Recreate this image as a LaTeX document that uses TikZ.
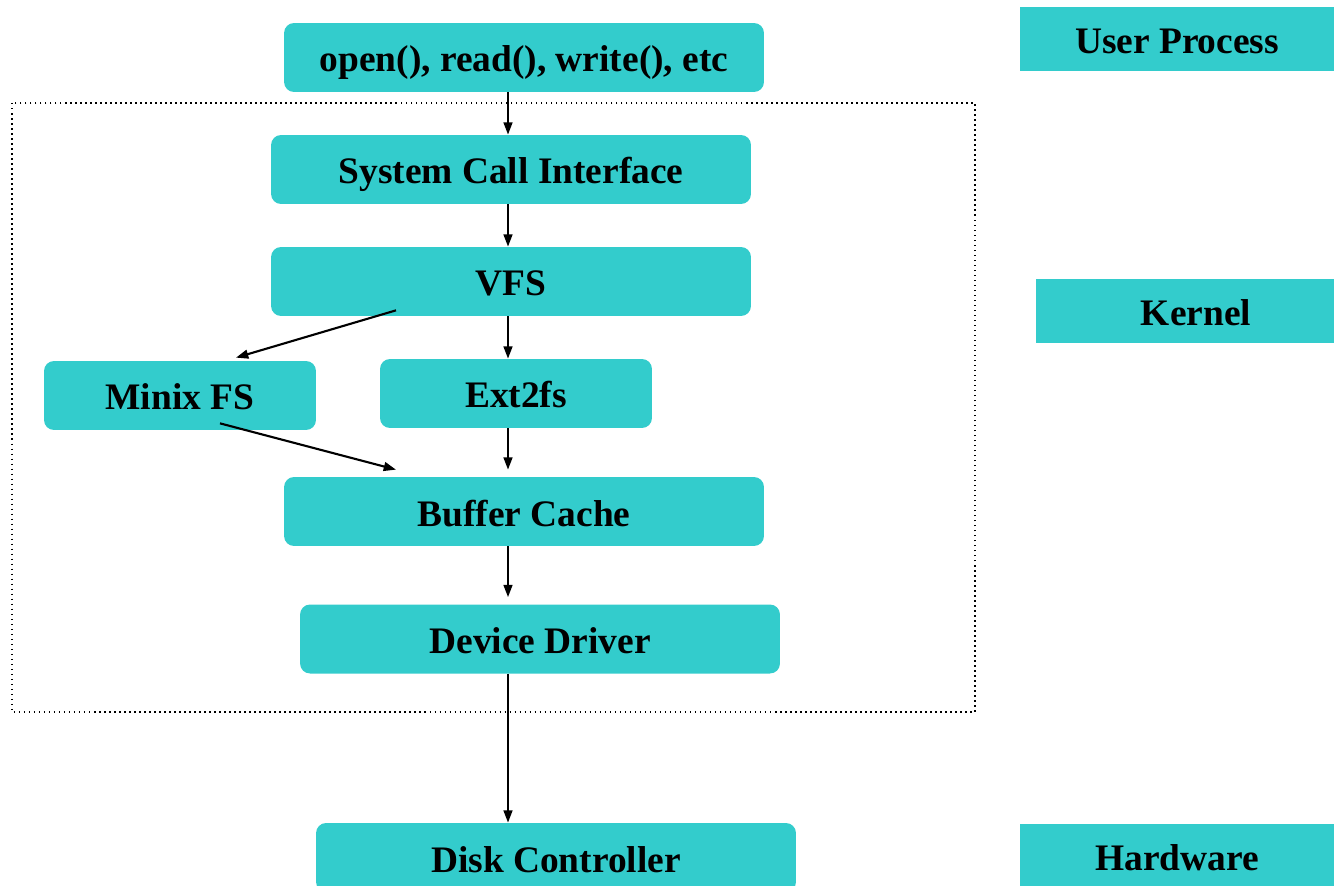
\documentclass[tikz,border=0pt]{standalone}
\usepackage{fontspec}
\setmainfont{Liberation Serif}
\usetikzlibrary{arrows.meta}
\definecolor{boxfill}{HTML}{33CCCC}

\begin{document}
\begin{tikzpicture}[x=0.02cm,y=-0.02cm,
  box/.style = {fill=boxfill,rounded corners=0.2cm,minimum width=9.6cm,minimum height=1.38cm,inner sep=0pt,text height=16.5pt,text depth=0pt,font=\fontsize{21.3}{25}\selectfont\bfseries},
  fsbox/.style = {box,minimum width=5.44cm},
  layer/.style = {fill=boxfill,minimum height=1.28cm,inner sep=0pt,text height=16.5pt,text depth=0pt,font=\fontsize{21.3}{25}\selectfont\bfseries},
  arr/.style = {-{Triangle[length=7pt,width=5pt]},line width=1.2pt}]

\useasboundingbox (0,0) rectangle (1334,885);
\clip (0,0) rectangle (1334,885);

% kernel frame
\draw[dotted,line width=0.85pt] (12,103) rectangle (975,712);

\node[box] (open) at (524,57.5) {open(), read(), write(), etc};
\node[box] (sci) at (511,169.5) {System Call Interface};
\node[box] (vfs) at (511,281.5) {VFS};
\node[fsbox] (minix) at (180,395.5) {Minix FS};
\node[fsbox] (ext) at (516,393.5) {Ext2fs};
\node[box] (buf) at (524,511.5) {Buffer Cache};
\node[box] (drv) at (540,639) {Device Driver};
\node[box] (disk) at (556,857.5) {Disk Controller};

% layers on the right
\node[layer,minimum width=6.28cm] (user) at (1177,39) {User Process};
\node[layer,minimum width=6.4cm] (kern) at (1196,311) {Kernel};
\node[layer,minimum width=6.28cm] (hw) at (1177,856) {Hardware};

\coordinate (axis) at (508,0);

\draw[arr] (open.south -| axis) -- (sci.north -| axis);
\draw[arr] (sci.south -| axis) -- (vfs.north -| axis);
\draw[arr] (vfs.south -| axis) -- (ext.north -| axis);
\draw[arr] ([shift={(-115,-6)}]vfs.south) -- ([shift={(56,-3)}]minix.north);
\draw[arr] ([shift={(40,-7)}]minix.south) -- ([shift={(-128,-7)}]buf.north);
\draw[arr] (ext.south -| axis) -- ([yshift=0.14cm]buf.north -| axis);
\draw[arr] (buf.south -| axis) -- ([yshift=0.14cm]drv.north -| axis);
\draw[arr] (drv.south -| axis) -- (disk.north -| axis);

\end{tikzpicture}
\end{document}
